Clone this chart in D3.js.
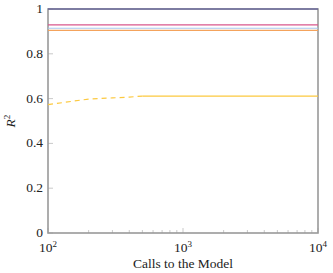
<!DOCTYPE html>
<html><head><meta charset="utf-8">
<script src="https://cdn.jsdelivr.net/npm/d3@7"></script>
<style>body{margin:0;background:#fff}svg{display:block}svg text{font-family:"Liberation Serif",serif !important}</style>
</head><body>
<svg id="c" width="333" height="273"></svg>
<script>
const xDomain = [100, 10000];
const yTicks = [0, 0.2, 0.4, 0.6, 0.8, 1];
const xMajor = [100, 1000, 10000];
const calls = [100, 10000];
const seriesNames = ["navy", "pink", "lightblue", "orange"];
const flatValues = [1.0, 0.929, 0.914, 0.905];
const flatColors = ["#4e4c96", "#d9578c", "#a8c6ee", "#f4a35c"];
const dashCalls = [100, 200, 300, 400, 500];
const dashValues = [0.573, 0.598, 0.603, 0.607, 0.611];
const solidCalls = [500, 10000];
const solidValues = [0.611, 0.611];
const yellow = "#fcc93f";

const svg = d3.select("#c");
const L = 48, R = 318, T = 9, B = 233;
const x = d3.scaleLog().domain(xDomain).range([L, R]);
const y = d3.scaleLinear().domain([0, 1]).range([B, T]);

const minor = [];
for (let d = 100; d < 10000; d *= 10) for (let k = 2; k <= 9; k++) minor.push(d * k);
svg.append("g").selectAll("line").data(minor).join("line")
  .attr("x1", d => x(d)).attr("x2", d => x(d)).attr("y1", B).attr("y2", B - 3)
  .attr("stroke", "#bbb").attr("stroke-width", 0.8);
svg.append("g").selectAll("line").data(xMajor).join("line")
  .attr("x1", d => x(d)).attr("x2", d => x(d)).attr("y1", B).attr("y2", B - 5)
  .attr("stroke", "#bbb").attr("stroke-width", 0.8);
svg.append("g").selectAll("line").data(yTicks).join("line")
  .attr("x1", L).attr("x2", L + 5).attr("y1", d => y(d)).attr("y2", d => y(d))
  .attr("stroke", "#bbb").attr("stroke-width", 0.8);

svg.append("rect").attr("x", L).attr("y", T).attr("width", R - L).attr("height", B - T)
  .attr("fill", "none").attr("stroke", "#999").attr("stroke-width", 1.6);

const line = d3.line().x(d => x(d[0])).y(d => y(d[1]));
flatValues.forEach((v, i) => {
  svg.append("path").datum(calls.map(c => [c, v])).attr("d", line)
    .attr("fill", "none").attr("stroke", flatColors[i]).attr("stroke-width", 1.2);
});
svg.append("path").datum(dashCalls.map((c, i) => [c, dashValues[i]])).attr("d", line)
  .attr("fill", "none").attr("stroke", yellow).attr("stroke-width", 1.2).attr("stroke-dasharray", "5,4");
svg.append("path").datum(solidCalls.map((c, i) => [c, solidValues[i]])).attr("d", line)
  .attr("fill", "none").attr("stroke", yellow).attr("stroke-width", 1.2);

svg.append("g").selectAll("text").data(yTicks).join("text")
  .attr("x", L - 5).attr("y", d => y(d) + 4).attr("text-anchor", "end").attr("fill", "#222")
  .attr("font-size", 13.5).text(d => d === 0 ? "0" : d === 1 ? "1" : d3.format(".1f")(d));
const xl = svg.append("g").selectAll("text").data(xMajor).join("text")
  .attr("x", d => x(d)).attr("y", 252).attr("text-anchor", "middle").attr("font-size", 13.5).attr("fill", "#222");
xl.append("tspan").text("10");
xl.append("tspan").attr("dy", -5).attr("font-size", 9).text(d => Math.round(Math.log10(d)));

svg.append("text").attr("x", (L + R) / 2).attr("y", 268).attr("text-anchor", "middle").attr("fill", "#222")
  .attr("font-size", 13.5).text("Calls to the Model");
const yl = svg.append("text").attr("transform", `translate(15,${(T + B) / 2}) rotate(-90)`)
  .attr("text-anchor", "middle").attr("font-size", 13.5).attr("fill", "#222");
yl.append("tspan").attr("font-style", "italic").text("R");
yl.append("tspan").attr("dy", -5).attr("font-size", 9).text("2");
</script>
</body></html>
